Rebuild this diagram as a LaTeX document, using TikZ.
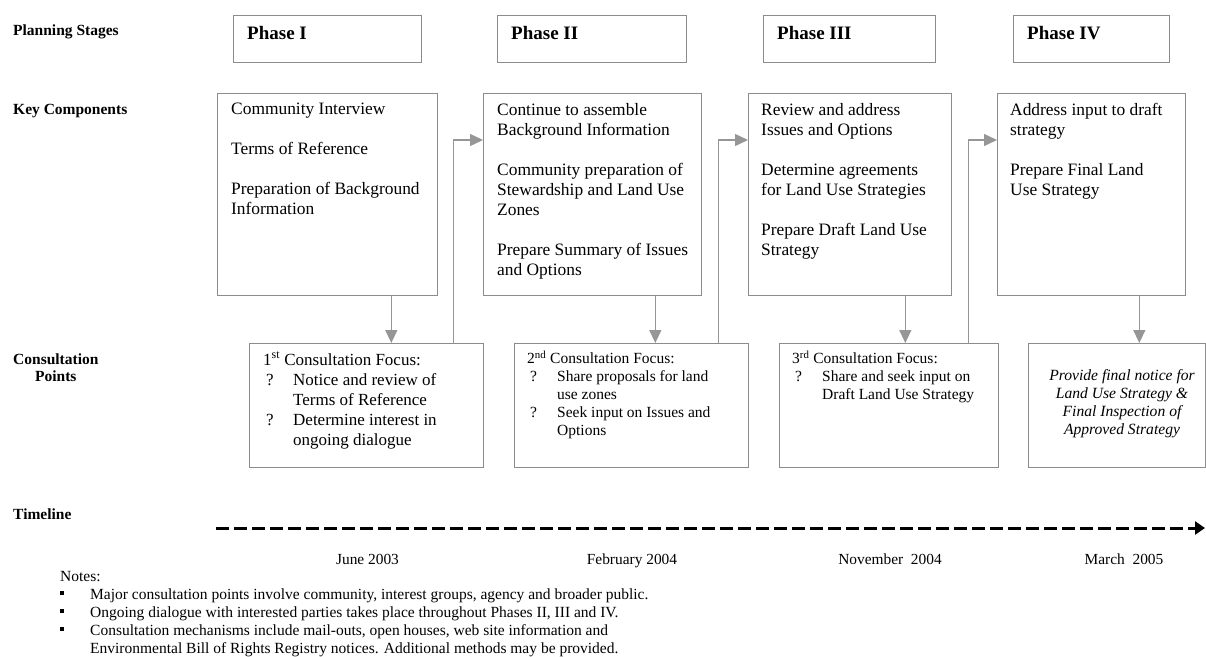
\documentclass[tikz,border=0pt]{standalone}
\usepackage{fontspec}
\setmainfont{Liberation Serif}
\usetikzlibrary{arrows.meta}
\definecolor{boxgray}{RGB}{140,140,140}
\definecolor{linkgray}{RGB}{150,150,150}

\newcommand{\qmark}{\makebox[30pt][l]{\hspace*{3pt}?}}
\newcommand{\qgap}{\hspace*{30pt}}
\newcommand{\nbul}{\makebox[30pt][l]{\raisebox{4.5pt}{\rule{4pt}{4pt}}}}

\begin{document}
\begin{tikzpicture}[x=1pt, y=-1pt,
    box/.style={draw=boxgray, line width=1.3pt, anchor=north west, inner sep=0pt},
    link/.style={draw=linkgray, line width=1.3pt, -{Triangle[length=13pt,width=12pt]}},
    rowlabel/.style={anchor=base west, inner sep=0pt, font=\fontsize{15.5}{17}\selectfont\bfseries},
    phasetext/.style={anchor=base west, inner sep=0pt, font=\fontsize{19}{22}\selectfont\bfseries},
    keytext/.style={anchor=north west, inner sep=0pt, align=left, font=\fontsize{17.4}{20}\selectfont},
    bigfocus/.style={anchor=north west, inner sep=0pt, align=left, font=\fontsize{17}{20}\selectfont},
    focus/.style={anchor=north west, inner sep=0pt, align=left, font=\fontsize{15.5}{18}\selectfont},
    datetext/.style={anchor=base, inner sep=0pt, font=\fontsize{15.4}{18}\selectfont},
    timeline/.style={line width=3pt, dash pattern=on 13pt off 5pt, -{Triangle[length=10pt,width=13pt]}}]

    \useasboundingbox (0,0) rectangle (1206,656);

    % Row labels
    \node[rowlabel] (lstage) at (13,35) {Planning Stages};
    \node[rowlabel] (lkey) at (13,114) {Key Components};
    \node[rowlabel, anchor=north west, align=center] (lcons) at (13,353.5) {Consultation\\Points};
    \node[rowlabel] (ltime) at (13,519) {Timeline};

    % Planning stages
    \foreach \n/\x/\w/\name in {1/233/188/Phase I, 2/497/189/Phase II, 3/763/172/Phase III, 4/1013/156/Phase IV} {
        \node[box, minimum width=\w pt, minimum height=47pt] (p\n) at (\x,15) {};
        \node[phasetext] (pt\n) at ([xshift=14pt,yshift=-24.5pt]p\n.north west) {\name};
    }

    % Key components
    \foreach \n/\x/\w in {1/217/220, 2/483/218, 3/748/203, 4/997/188} {
        \node[box, minimum width=\w pt, minimum height=202pt] (k\n) at (\x,93) {};
    }
    \node[keytext] (kt1) at ([xshift=14pt,yshift=-10pt]k1.north west)
        {Community Interview\\[20pt]Terms of Reference\\[20pt]Preparation of Background\\Information};
    \node[keytext] (kt2) at ([xshift=14pt,yshift=-10pt]k2.north west)
        {Continue to assemble\\Background Information\\[20pt]Community preparation of\\Stewardship and Land Use\\Zones\\[20pt]Prepare Summary of Issues\\and Options};
    \node[keytext] (kt3) at ([xshift=13pt,yshift=-10pt]k3.north west)
        {Review and address\\Issues and Options\\[20pt]Determine agreements\\for Land Use Strategies\\[20pt]Prepare Draft Land Use\\Strategy};
    \node[keytext] (kt4) at ([xshift=13pt,yshift=-10pt]k4.north west)
        {Address input to draft\\strategy\\[20pt]Prepare Final Land\\Use Strategy};

    % Consultation points
    \foreach \n/\x/\w in {1/249/234, 2/514/234, 3/779/219, 4/1028/177} {
        \node[box, minimum width=\w pt, minimum height=124pt] (c\n) at (\x,343) {};
    }
    \node[bigfocus] (ct1) at ([xshift=14pt,yshift=-9pt]c1.north west)
        {1\textsuperscript{st} Consultation Focus:\\\qmark Notice and review of\\\qgap Terms of Reference\\\qmark Determine interest in\\\qgap ongoing dialogue};
    \node[focus] (ct2) at ([xshift=13pt,yshift=-8pt]c2.north west)
        {2\textsuperscript{nd} Consultation Focus:\\\qmark Share proposals for land\\\qgap use zones\\\qmark Seek input on Issues and\\\qgap Options};
    \node[focus] (ct3) at ([xshift=13pt,yshift=-8pt]c3.north west)
        {3\textsuperscript{rd} Consultation Focus:\\\qmark Share and seek input on\\\qgap Draft Land Use Strategy};
    \node[focus, anchor=center, align=center, font=\fontsize{15.6}{18}\selectfont\itshape] (ct4) at (1122,404)
        {Provide final notice for\\Land Use Strategy \&\\Final Inspection of\\Approved Strategy};

    % Connections
    \foreach \i in {1,2,3,4} {
        \draw[link] ([xshift=-47pt]k\i.south east) -- ([xshift=-47pt]k\i.south east |- c\i.north);
    }
    \foreach \i/\j in {1/2, 2/3, 3/4} {
        \draw[link] ([xshift=-31pt]c\i.north east) |- ([yshift=-47pt]k\j.north west);
    }

    % Timeline
    \coordinate (tl0) at (216,528);
    \coordinate (tl1) at (1205,528);
    \draw[timeline] (tl0) -- (tl1);
    \node[datetext] (d1) at (367.5,564) {June 2003};
    \node[datetext] (d2) at (632,564) {February 2004};
    \node[datetext] (d3) at (890,564) {November\ \ 2004};
    \node[datetext] (d4) at (1124,564) {March\ \ 2005};

    % Notes
    \node[focus] (notes) at (60,571.5)
        {Notes:\\\nbul Major consultation points involve community, interest groups, agency and broader public.\\\nbul Ongoing dialogue with interested parties takes place throughout Phases II, III and IV.\\\nbul Consultation mechanisms include mail-outs, open houses, web site information and\\\hspace*{30pt}Environmental Bill of Rights Registry notices. Additional methods may be provided.};
\end{tikzpicture}
\end{document}
